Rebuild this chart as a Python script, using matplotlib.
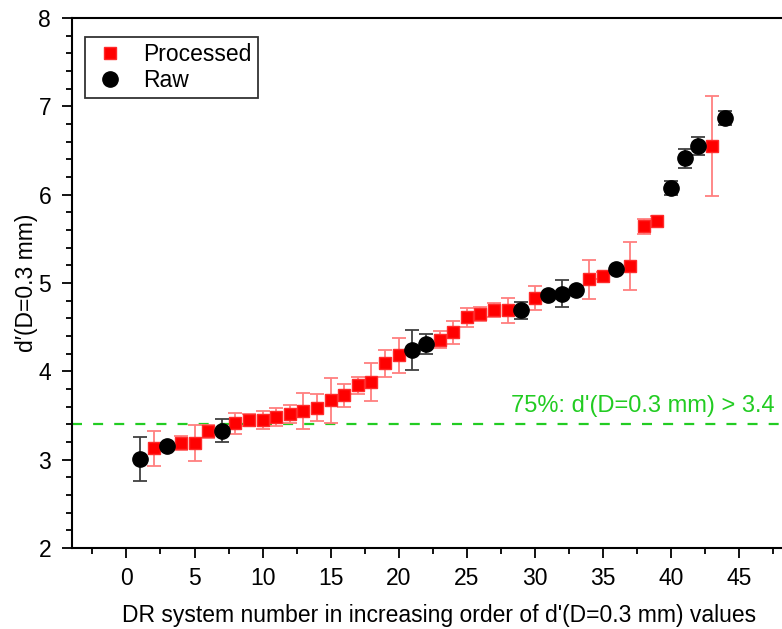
import matplotlib
matplotlib.use("Agg")
import matplotlib.pyplot as plt
from matplotlib.ticker import MultipleLocator, FixedLocator
from matplotlib.lines import Line2D

plt.rcParams['font.family'] = ['Liberation Sans', 'DejaVu Sans']

# Processed systems
proc_x = [2, 4, 5, 6, 8, 9, 10, 11, 12, 13, 14, 15, 16, 17, 18, 19, 20,
          23, 24, 25, 26, 27, 28, 30, 34, 35, 37, 38, 39, 43]
proc_y = [3.13, 3.19, 3.19, 3.32, 3.41, 3.45, 3.45, 3.48, 3.52, 3.55, 3.59, 3.67, 3.73,
          3.84, 3.88, 4.09, 4.18, 4.36, 4.44, 4.61, 4.65, 4.69, 4.69, 4.83, 5.04, 5.08,
          5.19, 5.64, 5.70, 6.55]
proc_err = [0.20, 0.08, 0.20, 0.07, 0.12, 0.07, 0.10, 0.10, 0.10, 0.20, 0.15, 0.26, 0.13,
            0.10, 0.22, 0.15, 0.20, 0.10, 0.13, 0.11, 0.08, 0.08, 0.14, 0.14, 0.22, 0.04,
            0.27, 0.09, 0.06, 0.57]

# Raw systems
raw_x = [1, 3, 7, 21, 22, 29, 31, 32, 33, 36, 40, 41, 42, 44]
raw_y = [3.01, 3.16, 3.33, 4.24, 4.31, 4.69, 4.86, 4.88, 4.92, 5.16, 6.08, 6.41, 6.55, 6.87]
raw_err = [0.25, 0.03, 0.13, 0.23, 0.11, 0.10, 0.03, 0.15, 0.02, 0.02, 0.08, 0.11, 0.10, 0.08]

x_major_ticks = [0, 5, 10, 15, 20, 25, 30, 35, 40, 45]
x_minor_ticks = [-2.5, 2.5, 7.5, 12.5, 17.5, 22.5, 27.5, 32.5, 37.5, 42.5, 47.5]

threshold = 3.4
threshold_label = "75%: d'(D=0.3 mm) > 3.4"

W, H = 782, 629
ax_left, ax_right, ax_bottom, ax_top = 72, 127 + 13.6 * 50, 548, 18
ax_w = ax_right - ax_left

fig = plt.figure(figsize=(W / 100, H / 100), dpi=100)
ax = fig.add_axes([ax_left / W, (H - ax_bottom) / H, ax_w / W, (ax_bottom - ax_top) / H])

ax.errorbar(proc_x, proc_y, yerr=proc_err, fmt='s', color='#ff0000', ms=9,
            mec='#ff2a2a', ecolor='#ff7f7f', elinewidth=1.3, capsize=4.7, capthick=1.3,
            zorder=3)
ax.errorbar(raw_x, raw_y, yerr=raw_err, fmt='o', color='black', ms=11,
            ecolor='#404040', elinewidth=1.3, capsize=4.7, capthick=1.3,
            zorder=4)

ax.axhline(threshold, color='#22cc22', ls=(0, (4.5, 5)), lw=1.6, zorder=1)
ax.text((775 - ax_left) / ax_w, threshold + 0.08, threshold_label,
        transform=ax.get_yaxis_transform(), color='#22cc22', fontsize=17,
        ha='right', va='bottom')

ax.set_xlim(-4, 50)
ax.set_ylim(2, 8)
ax.xaxis.set_major_locator(FixedLocator(x_major_ticks))
ax.xaxis.set_minor_locator(FixedLocator(x_minor_ticks))
ax.yaxis.set_major_locator(MultipleLocator(1))
ax.yaxis.set_minor_locator(MultipleLocator(0.2))
ax.tick_params(which='major', direction='out', length=7, width=1.3, labelsize=16.5)
ax.tick_params(axis='x', which='major', pad=7)
ax.tick_params(axis='y', which='major', pad=8)
ax.tick_params(which='minor', direction='out', length=4, width=1.3)
for s in ax.spines.values():
    s.set_linewidth(1.5)
ax.spines['right'].set_visible(False)

ax.set_xlabel("DR system number in increasing order of d'(D=0.3 mm) values",
              fontsize=16.5, labelpad=10)
ax.set_ylabel("d\u2032(D=0.3 mm)", fontsize=16.5, labelpad=0)

handles = [Line2D([], [], ls='none', marker='s', color='#ff0000', mec='#ff2a2a', ms=9),
           Line2D([], [], ls='none', marker='o', color='black', ms=11)]
leg = ax.legend(handles, ['Processed', 'Raw'], loc='upper left',
                bbox_to_anchor=((85 - ax_left) / ax_w, (ax_bottom - 37) / (ax_bottom - ax_top)),
                fontsize=16.5, frameon=True, fancybox=False, edgecolor='black',
                handletextpad=0.6, borderpad=0.25, labelspacing=0.15, handlelength=1.7,
                borderaxespad=0)
leg.get_frame().set_linewidth(1.3)

fig.savefig('out.png', dpi=100)
